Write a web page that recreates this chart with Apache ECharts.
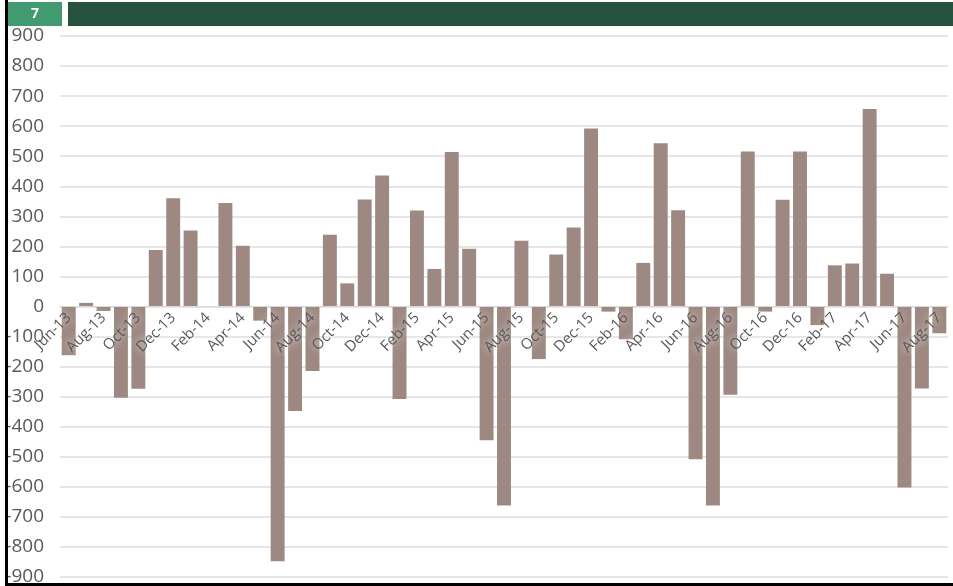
<!DOCTYPE html>
<html lang="en">
<head>
    <meta charset="UTF-8">
    <title>Monthly change</title>
    <style>
        html, body { margin: 0; padding: 0; background: #fff; }
        #main { width: 953px; height: 586px; }
    </style>
    <script src="https://cdn.jsdelivr.net/npm/echarts@6/dist/echarts.min.js"></script>
</head>
<body>
<div id="main"></div>
<script type="text/javascript">

    // months Jun-13 .. Aug-17
    var months = ['Jun-13','Jul-13','Aug-13','Sep-13','Oct-13','Nov-13','Dec-13',
        'Jan-14','Feb-14','Mar-14','Apr-14','May-14','Jun-14','Jul-14','Aug-14','Sep-14','Oct-14','Nov-14','Dec-14',
        'Jan-15','Feb-15','Mar-15','Apr-15','May-15','Jun-15','Jul-15','Aug-15','Sep-15','Oct-15','Nov-15','Dec-15',
        'Jan-16','Feb-16','Mar-16','Apr-16','May-16','Jun-16','Jul-16','Aug-16','Sep-16','Oct-16','Nov-16','Dec-16',
        'Jan-17','Feb-17','Mar-17','Apr-17','May-17','Jun-17','Jul-17','Aug-17'];

    var values = [-162, 12, -15, -304, -274, 188, 360,
        253, 0, 344, 202, -47, -848, -348, -215, 239, 77, 356, 436,
        -308, 319, 125, 514, 192, -445, -662, 219, -175, 173, 263, 592,
        -17, -109, 145, 543, 320, -508, -662, -294, 516, -17, 355, 516,
        -62, 137, 143, 657, 109, -602, -273, -89];

    var yTicks = { min: -900, max: 900, step: 100 };
    var badge = '7';

    var gridTop = 36, gridBottom = 9, chartH = 586;
    // onZero does not take here, so lift the category axis to the 0 line by hand
    var plotH = chartH - gridTop - gridBottom;
    var zeroOffset = -plotH * (0 - yTicks.min) / (yTicks.max - yTicks.min);

    var myChart = echarts.init(document.getElementById('main'));

    var option = {
        animation: false,
        grid: { left: 60, right: 5, top: gridTop, bottom: gridBottom, containLabel: false, outerBoundsMode: 'none' },
        xAxis: {
            type: 'category',
            data: months,
            position: 'bottom',
            offset: zeroOffset,
            axisLine: { onZero: false, lineStyle: { color: '#d9d9d9', width: 1 } },
            axisTick: { show: false },
            axisLabel: {
                interval: 1,
                rotate: 45,
                margin: 9,
                fontFamily: 'Open Sans',
                fontSize: 15,
                color: '#595959',
                textShadowColor: '#ffffff',
                textShadowBlur: 9
            },
            z: 5
        },
        yAxis: {
            type: 'value',
            min: yTicks.min,
            max: yTicks.max,
            interval: yTicks.step,
            axisLine: { show: false },
            axisTick: { show: false },
            splitLine: { lineStyle: { color: '#dedede', width: 1.5 } },
            axisLabel: {
                margin: 16,
                fontFamily: 'Open Sans',
                fontSize: 19,
                color: '#595959'
            }
        },
        series: [{
            type: 'bar',
            data: values,
            barCategoryGap: '20%',
            itemStyle: { color: '#9d8981' }
        }],
        graphic: [
            { type: 'rect', shape: { x: 8, y: 2, width: 54, height: 24 }, style: { fill: '#419a70' }, z: 10 },
            { type: 'text', x: 35, y: 14, style: { text: badge, fill: '#fff', font: 'bold 14px "Open Sans"', align: 'center', verticalAlign: 'middle' }, z: 11 },
            { type: 'rect', shape: { x: 68, y: 2, width: 885, height: 24 }, style: { fill: '#26523f' }, z: 10 },
            { type: 'rect', shape: { x: 5, y: 0, width: 3, height: 586 }, style: { fill: '#000' }, z: 20 },
            { type: 'rect', shape: { x: 5, y: 583, width: 948, height: 3 }, style: { fill: '#000' }, z: 20 }
        ]
    };

    myChart.setOption(option);

</script>
</body>
</html>
